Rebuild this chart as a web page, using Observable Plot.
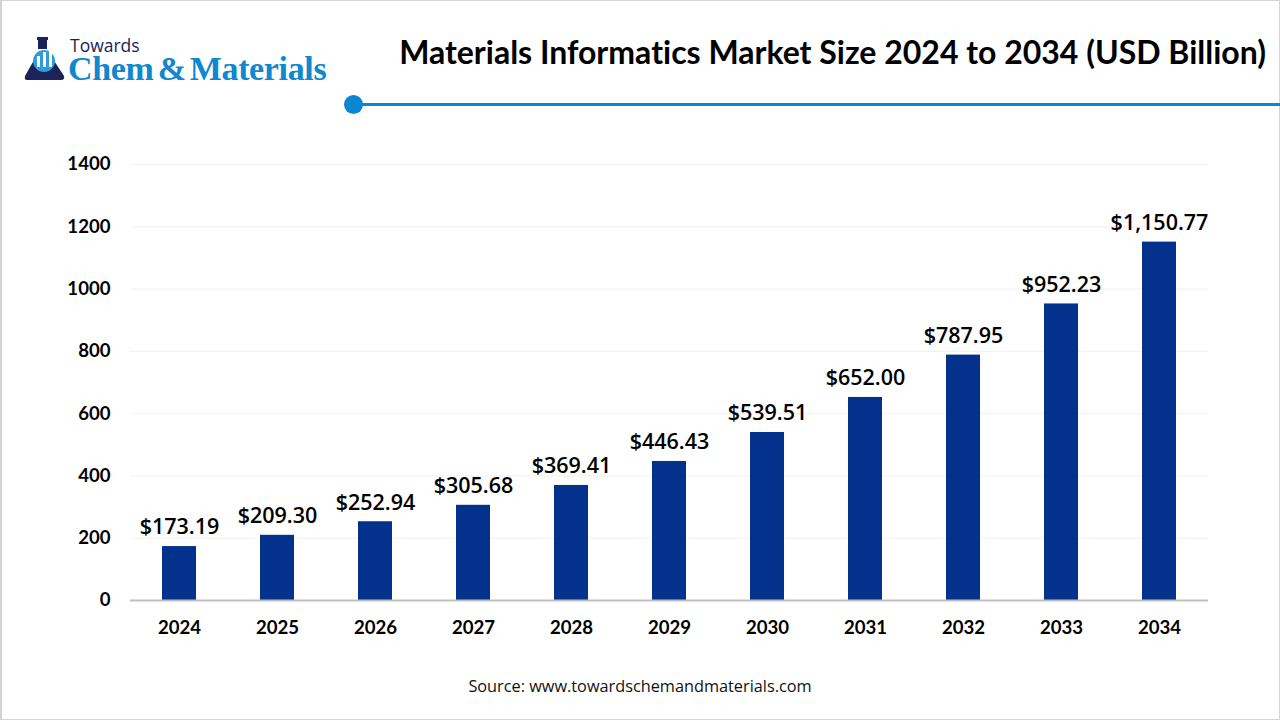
<!DOCTYPE html>
<html><head><meta charset="utf-8">
<script src="https://cdn.jsdelivr.net/npm/d3@7"></script>
<script src="https://cdn.jsdelivr.net/npm/@observablehq/plot@0.6"></script>
<style>
html,body{margin:0;padding:0;background:#fff}
body{width:1280px;height:720px;position:relative;overflow:hidden}
#frame{position:absolute;inset:0;border:1px solid #d4d4d4;border-width:1px 1px 1px 2px;box-sizing:border-box;pointer-events:none}
#chart{position:absolute;left:0;top:0}
#title{position:absolute;right:14px;top:32px;font:700 32px Lato,sans-serif;font-variant-ligatures:none;color:#000;white-space:nowrap}
#rule{position:absolute;left:353px;right:0;top:102.5px;height:3px;background:#0b86d3}
#dot{position:absolute;left:344px;top:95px;width:19px;height:19px;border-radius:50%;background:#0b86d3}
#t1{position:absolute;left:70px;top:36px;font:400 17.5px/18px "Open Sans",sans-serif;color:#1b2358}
#t2{position:absolute;left:68px;top:54px;font:700 34px/30px "Liberation Serif",serif;color:#0f88cf;white-space:nowrap;letter-spacing:-.35px;word-spacing:-4px}
#flask{position:absolute;left:24px;top:36px}
#source{position:absolute;left:0;width:1280px;text-align:center;top:675px;font:400 16.3px "Open Sans",sans-serif;color:#111}
</style></head><body>
<div id="chart"></div>
<div id="frame"></div>
<svg id="flask" width="42" height="46" viewBox="0 0 42 46">
<rect x="13" y="1" width="11" height="3" fill="#1b2358"/><rect x="14" y="4" width="9" height="9" fill="#1b2358"/>
<path d="M14 17 L25 17 L40 40 Q41 44 37 44 L3 44 Q0 44 1 40 Z" fill="#1b2358"/>
<circle cx="20" cy="25" r="11" fill="#2f9bdc"/>
<rect x="13" y="20" width="3" height="11" fill="#fff"/><rect x="19" y="16" width="3" height="15" fill="#fff"/><rect x="25" y="14" width="3" height="17" fill="#fff"/>
</svg>
<div id="t1">Towards</div>
<div id="t2">Chem &amp; Materials</div>
<div id="title">Materials Informatics Market Size 2024 to 2034 (USD Billion)</div>
<div id="rule"></div><div id="dot"></div>
<div id="source">Source: www.towardschemandmaterials.com</div>
<script>
const years = ["2024","2025","2026","2027","2028","2029","2030","2031","2032","2033","2034"];
const values = [173.19,209.30,252.94,305.68,369.41,446.43,539.51,652.00,787.95,952.23,1150.77];
const labels = ["$173.19","$209.30","$252.94","$305.68","$369.41","$446.43","$539.51","$652.00","$787.95","$952.23","$1,150.77"];
const yTicks = [0,200,400,600,800,1000,1200,1400];
const rows = years.map((year,i)=>({year,value:values[i],label:labels[i]}));
const plot = Plot.plot({
  width:1280,height:720,
  marginLeft:130,marginRight:72,marginTop:164,marginBottom:120,
  style:{background:"transparent"},
  x:{domain:years,paddingInner:0.653,paddingOuter:0.3265,align:0.5,label:null,tickSize:0,tickPadding:20},
  y:{domain:[0,1400],ticks:yTicks,label:null,tickSize:0,tickPadding:20,tickFormat:d=>String(d)},
  marks:[
    Plot.ruleY(yTicks.filter(d=>d>0),{stroke:"#f0f0f0",strokeWidth:1}),
    Plot.barY(rows,{x:"year",y:"value",fill:"#03318c"}),
    Plot.ruleY([0],{stroke:"#bfbfbf",strokeWidth:2}),
    Plot.text(rows,{x:"year",y:"value",text:"label",dy:-19,fill:"#000",fontSize:21.5,fontWeight:600,fontFamily:"Open Sans"})
  ]
});
plot.querySelectorAll('[aria-label="x-axis tick label"] text, [aria-label="y-axis tick label"] text').forEach(t=>{
  t.setAttribute("font-size","18.6");t.setAttribute("font-weight","700");t.setAttribute("font-family","Lato");t.setAttribute("fill","#000");
});
document.getElementById("chart").append(plot);
</script>
</body></html>
